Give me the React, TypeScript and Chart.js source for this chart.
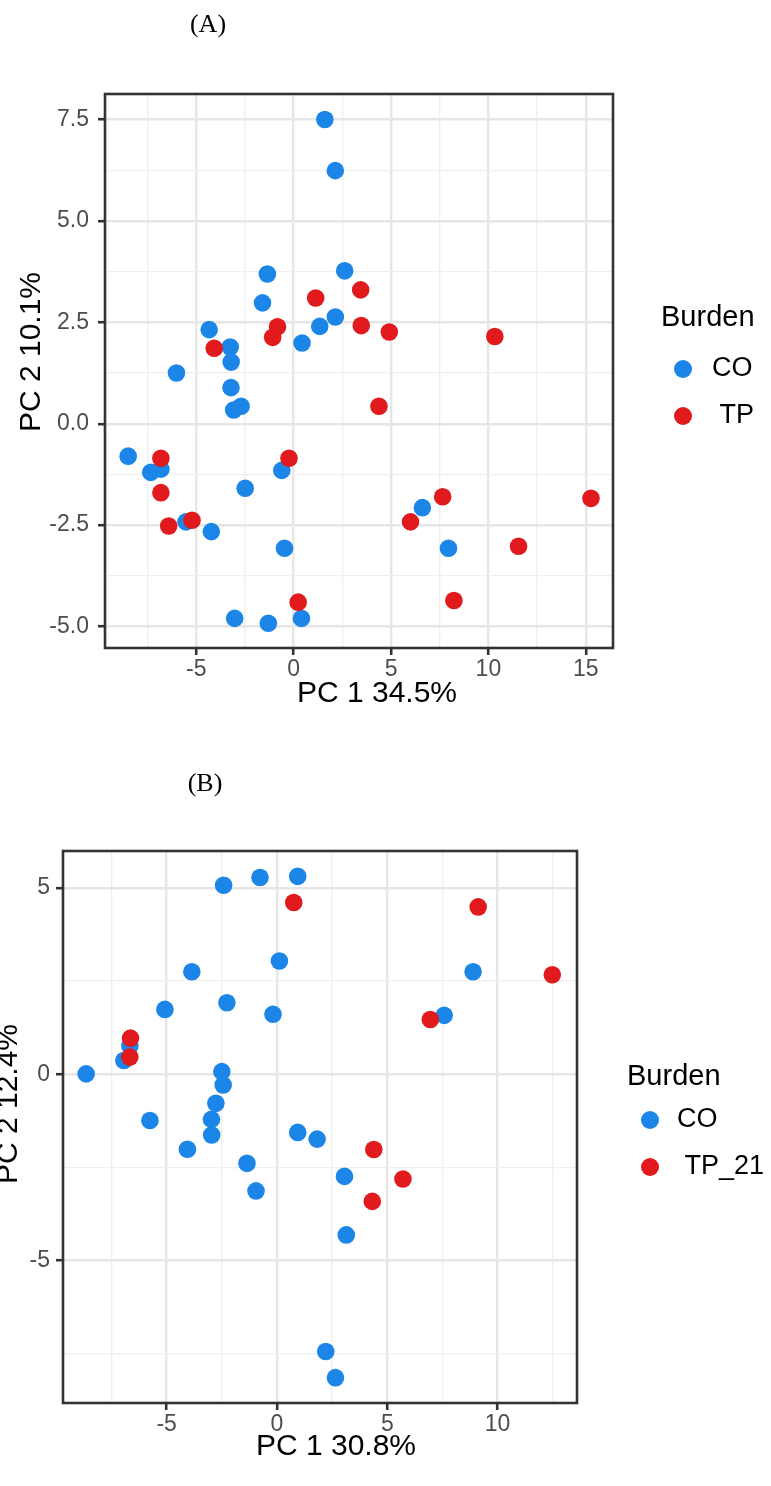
import React, { useEffect, useRef } from 'react';
import { Chart, registerables } from 'chart.js';

Chart.register(...registerables);

// ---------- shared text ----------
const LEGEND_TITLE = 'Burden';

// ---------- Panel A data ----------
const A_GROUPS = ['CO', ' TP'];
const A_X_TITLE = 'PC 1 34.5%';
const A_Y_TITLE = 'PC 2 10.1%';
const A_X_TICKS = [-5, 0, 5, 10, 15];
const A_X_LABELS = ['-5', '0', '5', '10', '15'];
const A_Y_TICKS = [-5, -2.5, 0, 2.5, 5, 7.5];
const A_Y_LABELS = ['-5.0', '-2.5', '0.0', '2.5', '5.0', '7.5'];
const A_X_RANGE = [-9.69, 16.4];
const A_Y_RANGE = [-5.53, 8.13];

const A_CO_X = [1.6, 2.14, -1.35, 2.62, -1.6, 2.14, 1.34, 0.43, -4.34, -3.26, -3.21, -6.02, -3.22, -3.08, -2.7, -8.5, -7.34, -6.82, -2.49, -0.61, -5.53, -4.23, -0.47, 6.61, 7.95, -3.03, -1.3, 0.4];
const A_CO_Y = [7.5, 6.24, 3.69, 3.77, 2.98, 2.63, 2.4, 1.99, 2.32, 1.89, 1.52, 1.25, 0.89, 0.34, 0.43, -0.8, -1.2, -1.12, -1.59, -1.15, -2.42, -2.66, -3.07, -2.07, -3.07, -4.8, -4.92, -4.8];
const A_TP_X = [1.13, 3.44, -0.83, -1.08, 3.47, 4.91, 10.33, -4.08, 4.38, -6.82, -0.24, -6.82, -6.42, -5.22, 7.65, 6.0, 15.27, 11.55, 0.23, 8.23];
const A_TP_Y = [3.1, 3.3, 2.39, 2.13, 2.42, 2.26, 2.15, 1.86, 0.43, -0.85, -0.85, -1.7, -2.52, -2.38, -1.8, -2.42, -1.84, -3.02, -4.4, -4.36];

// ---------- Panel B data ----------
const B_GROUPS = ['CO', ' TP_21'];
const B_X_TITLE = 'PC 1 30.8%';
const B_Y_TITLE = 'PC 2 12.4%';
const B_X_TICKS = [-5, 0, 5, 10];
const B_X_LABELS = ['-5', '0', '5', '10'];
const B_Y_TICKS = [-5, 0, 5];
const B_Y_LABELS = ['-5', '0', '5'];
const B_X_RANGE = [-9.7, 13.6];
const B_Y_RANGE = [-8.82, 5.99];

const B_CO_X = [-2.42, -0.77, 0.94, 0.11, -3.86, 8.89, -2.27, -5.08, -0.18, 7.58, -6.67, -6.94, -8.65, -2.5, -2.44, -2.77, -5.76, -2.97, -2.96, 0.94, 1.82, -4.06, -1.36, -0.95, 3.06, 3.14, 2.21, 2.65];
const B_CO_Y = [5.07, 5.28, 5.31, 3.04, 2.75, 2.75, 1.92, 1.74, 1.61, 1.58, 0.76, 0.37, 0.01, 0.07, -0.29, -0.78, -1.24, -1.21, -1.63, -1.56, -1.74, -2.01, -2.39, -3.13, -2.74, -4.31, -7.44, -8.14];
const B_TP_X = [0.76, 9.12, 12.48, 6.95, -6.64, -6.67, 4.39, 5.71, 4.32];
const B_TP_Y = [4.61, 4.49, 2.67, 1.47, 0.97, 0.46, -2.02, -2.81, -3.41];

// ---------- styles ----------
const BLUE = '#1b86e8';
const RED = '#e11a1d';
const SANS = '"Liberation Sans", Arial, Helvetica, sans-serif';
const W = 771;

type PanelCfg = {
  canvasTop: number;
  canvasHeight: number;
  frame: { left: number; top: number; right: number; bottom: number };
  xRange: number[];
  yRange: number[];
  xTicks: number[];
  xLabels: string[];
  yTicks: number[];
  yLabels: string[];
  yLabelPad: number;
  xTitle: string;
  yTitle: string;
  groups: string[];
  coX: number[];
  coY: number[];
  tpX: number[];
  tpY: number[];
  xTitlePos: [number, number];
  yTitlePos: [number, number];
  legendTitlePos: [number, number];
  legendDotX: number;
  legendTextX: number;
  legendItemY: number[];
};

const PANEL_A: PanelCfg = {
  canvasTop: 0,
  canvasHeight: 730,
  frame: { left: 105, top: 94, right: 613, bottom: 648 },
  xRange: A_X_RANGE,
  yRange: A_Y_RANGE,
  xTicks: A_X_TICKS,
  xLabels: A_X_LABELS,
  yTicks: A_Y_TICKS,
  yLabels: A_Y_LABELS,
  yLabelPad: 9,
  xTitle: A_X_TITLE,
  yTitle: A_Y_TITLE,
  groups: A_GROUPS,
  coX: A_CO_X,
  coY: A_CO_Y,
  tpX: A_TP_X,
  tpY: A_TP_Y,
  xTitlePos: [377, 702],
  yTitlePos: [40, 352],
  legendTitlePos: [661, 318],
  legendDotX: 683,
  legendTextX: 712,
  legendItemY: [369, 416],
};

const PANEL_B: PanelCfg = {
  canvasTop: 740,
  canvasHeight: 746,
  frame: { left: 63, top: 851, right: 577, bottom: 1403 },
  xRange: B_X_RANGE,
  yRange: B_Y_RANGE,
  xTicks: B_X_TICKS,
  xLabels: B_X_LABELS,
  yTicks: B_Y_TICKS,
  yLabels: B_Y_LABELS,
  yLabelPad: 6,
  xTitle: B_X_TITLE,
  yTitle: B_Y_TITLE,
  groups: B_GROUPS,
  coX: B_CO_X,
  coY: B_CO_Y,
  tpX: B_TP_X,
  tpY: B_TP_Y,
  xTitlePos: [336, 1455],
  yTitlePos: [17, 1104],
  legendTitlePos: [627, 1077],
  legendDotX: 650,
  legendTextX: 677,
  legendItemY: [1120, 1167],
};

function gridValues(majors: number[], min: number, max: number): number[] {
  const half = (majors[1] - majors[0]) / 2;
  const out: number[] = [];
  let v = majors[0];
  while (v - half >= min) v -= half;
  for (; v <= max + 1e-9; v += half) out.push(Math.round(v * 1000) / 1000);
  return out;
}

function makeAxis(
  majors: number[],
  labels: string[],
  range: number[],
  isX: boolean,
  size: number,
  pad: number
) {
  const vals = gridValues(majors, range[0], range[1]);
  const isMajor = (v: any) => typeof v === 'number' && majors.some((m) => Math.abs(m - v) < 1e-6);
  return {
    type: 'linear',
    min: range[0],
    max: range[1],
    afterBuildTicks: (s: any) => {
      s.ticks = vals.map((v) => ({ value: v }));
    },
    afterFit: (s: any) => {
      if (isX) s.height = size;
      else s.width = size;
    },
    border: { display: false },
    grid: {
      drawTicks: true,
      tickLength: 7,
      color: (c: any) => (isMajor(c.tick && c.tick.value) ? '#e6e6e6' : '#efefef'),
      lineWidth: (c: any) => (isMajor(c.tick && c.tick.value) ? 2.4 : 1.3),
      tickColor: (c: any) => (isMajor(c.tick && c.tick.value) ? '#333333' : 'rgba(0,0,0,0)'),
      tickWidth: 2.6,
    },
    ticks: {
      autoSkip: false,
      maxRotation: 0,
      minRotation: 0,
      padding: pad,
      color: '#4d4d4d',
      font: { family: SANS, size: 23 },
      callback: (v: any) => {
        const i = majors.findIndex((m) => Math.abs(m - v) < 1e-6);
        return i >= 0 ? labels[i] : '';
      },
    },
  };
}

function makeDecor(cfg: PanelCfg) {
  const T = cfg.canvasTop;
  return {
    id: 'decor',
    afterDraw(chart: any) {
      const { ctx, chartArea: a } = chart;
      ctx.save();
      // panel border
      ctx.strokeStyle = '#333333';
      ctx.lineWidth = 2.6;
      ctx.strokeRect(a.left, a.top, a.right - a.left, a.bottom - a.top);
      // axis titles
      ctx.fillStyle = '#000000';
      ctx.font = `30px ${SANS}`;
      ctx.textAlign = 'center';
      ctx.textBaseline = 'alphabetic';
      ctx.fillText(cfg.xTitle, cfg.xTitlePos[0], cfg.xTitlePos[1] - T);
      ctx.save();
      ctx.translate(cfg.yTitlePos[0], cfg.yTitlePos[1] - T);
      ctx.rotate(-Math.PI / 2);
      ctx.fillText(cfg.yTitle, 0, 0);
      ctx.restore();
      // legend
      ctx.textAlign = 'left';
      ctx.textBaseline = 'middle';
      ctx.font = `29px ${SANS}`;
      ctx.fillText(LEGEND_TITLE, cfg.legendTitlePos[0], cfg.legendTitlePos[1] - T);
      ctx.font = `27px ${SANS}`;
      chart.data.datasets.forEach((ds: any, i: number) => {
        const y = cfg.legendItemY[i] - T;
        ctx.fillStyle = ds.pointBackgroundColor;
        ctx.beginPath();
        ctx.arc(cfg.legendDotX, y, 9, 0, Math.PI * 2);
        ctx.fill();
        ctx.fillStyle = '#000000';
        ctx.fillText(ds.label, cfg.legendTextX, y);
      });
      ctx.restore();
    },
  };
}

function Panel({ cfg }: { cfg: PanelCfg }) {
  const ref = useRef<HTMLCanvasElement>(null);
  useEffect(() => {
    const T = cfg.canvasTop;
    const H = cfg.canvasHeight;
    const f = cfg.frame;
    const chart = new Chart(ref.current as HTMLCanvasElement, {
      type: 'scatter',
      data: {
        datasets: [
          {
            label: cfg.groups[0],
            data: cfg.coX.map((x, i) => ({ x, y: cfg.coY[i] })),
            pointBackgroundColor: BLUE,
            backgroundColor: BLUE,
            pointBorderWidth: 0,
            borderWidth: 0,
            pointRadius: 8.8,
            order: 1,
          },
          {
            label: cfg.groups[1],
            data: cfg.tpX.map((x, i) => ({ x, y: cfg.tpY[i] })),
            pointBackgroundColor: RED,
            backgroundColor: RED,
            pointBorderWidth: 0,
            borderWidth: 0,
            pointRadius: 8.8,
            order: 0,
          },
        ],
      },
      options: {
        responsive: false,
        animation: false,
        events: [],
        layout: {
          padding: { left: 0, top: f.top - T, right: W - f.right, bottom: 0 },
        },
        plugins: {
          legend: { display: false },
          tooltip: { enabled: false },
          title: { display: false },
        },
        scales: {
          x: makeAxis(cfg.xTicks, cfg.xLabels, cfg.xRange, true, H - (f.bottom - T), 1) as any,
          y: makeAxis(cfg.yTicks, cfg.yLabels, cfg.yRange, false, f.left, cfg.yLabelPad) as any,
        },
      } as any,
      plugins: [makeDecor(cfg)],
    });
    return () => chart.destroy();
  }, [cfg]);
  return (
    <canvas
      ref={ref}
      width={W}
      height={cfg.canvasHeight}
      style={{
        position: 'absolute',
        left: 0,
        top: cfg.canvasTop,
        width: W,
        height: cfg.canvasHeight,
        display: 'block',
      }}
    />
  );
}

const labelStyle = (x: number, y: number): React.CSSProperties => ({
  position: 'absolute',
  left: x,
  top: y,
  transform: 'translate(-50%, -50%)',
  fontFamily: '"Liberation Serif", "Times New Roman", serif',
  fontSize: 26,
  lineHeight: 1,
  color: '#000',
  whiteSpace: 'nowrap',
  zIndex: 2,
});

export default function App() {
  return (
    <div
      style={{
        position: 'absolute',
        left: 0,
        top: 0,
        width: W,
        height: 1486,
        overflow: 'hidden',
        background: '#ffffff',
      }}
    >
      <div style={labelStyle(208, 24)}>(A)</div>
      <div style={labelStyle(205, 783)}>(B)</div>
      <Panel cfg={PANEL_A} />
      <Panel cfg={PANEL_B} />
    </div>
  );
}
